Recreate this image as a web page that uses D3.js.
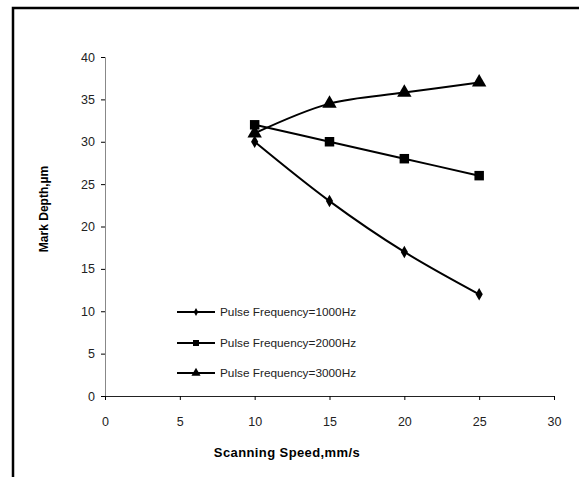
<!DOCTYPE html>
<html><head><meta charset="utf-8">
<script src="https://cdn.jsdelivr.net/npm/d3@7"></script>
<style>body{margin:0;background:#fff}svg{display:block}text{font-family:"Liberation Sans",Arial,sans-serif}</style>
</head><body>
<script>
const speeds = [10, 15, 20, 25];
const depth1000 = [30, 23, 17, 12];
const depth2000 = [32, 30, 28, 26];
const depth3000 = [31, 34.5, 35.8, 37];
const seriesNames = ["Pulse Frequency=1000Hz", "Pulse Frequency=2000Hz", "Pulse Frequency=3000Hz"];
const xTicks = [0, 5, 10, 15, 20, 25, 30];
const yTicks = [0, 5, 10, 15, 20, 25, 30, 35, 40];

const W = 579, H = 477;
const svg = d3.select("body").append("svg").attr("width", W).attr("height", H);

// frame (top + left)
svg.append("path").attr("d", `M13,${H} L13,8 L${W},8`).attr("fill", "none").attr("stroke", "#000").attr("stroke-width", 2.5);

const x = d3.scaleLinear().domain([0, 30]).range([105, 554]);
const y = d3.scaleLinear().domain([0, 40]).range([396, 57]);

// y axis
const ya = svg.append("g").attr("transform", "translate(105,0)")
  .call(d3.axisLeft(y).tickValues(yTicks).tickSize(4).tickPadding(6).tickFormat(d3.format("d")));
ya.select(".domain").attr("stroke", "#888");
ya.selectAll(".tick line").attr("stroke", "#000");
ya.selectAll("text").attr("font-size", 12.5).attr("fill", "#222").attr("font-family", "Liberation Sans, Arial, sans-serif");

// x axis
const xa = svg.append("g").attr("transform", "translate(0,396)")
  .call(d3.axisBottom(x).tickValues(xTicks).tickSize(4).tickPadding(17).tickFormat(d3.format("d")));
xa.select(".domain").attr("stroke", "#222");
xa.selectAll(".tick line").attr("stroke", "#000");
xa.selectAll("text").attr("font-size", 12.5).attr("fill", "#222").attr("font-family", "Liberation Sans, Arial, sans-serif");

// axis titles
svg.append("text").attr("x", 287).attr("y", 457).attr("text-anchor", "middle")
  .attr("font-size", 13).attr("font-weight", "bold").attr("letter-spacing", 0.4).text("Scanning Speed,mm/s");
svg.append("text").attr("transform", "translate(48,209) rotate(-90)").attr("text-anchor", "middle")
  .attr("font-size", 12).attr("font-weight", "bold").text("Mark Depth,µm");

const allSeries = [depth1000, depth2000, depth3000];
const shapes = [d3.symbolDiamond, d3.symbolSquare, d3.symbolTriangle];
const sizes = [45, 90, 90];
const line = d3.line().x(d => x(d[0])).y(d => y(d[1])).curve(d3.curveCatmullRom.alpha(0.5));

allSeries.forEach((vals, i) => {
  const pts = speeds.map((s, j) => [s, vals[j]]);
  svg.append("path").attr("d", line(pts)).attr("fill", "none").attr("stroke", "#000").attr("stroke-width", 2);
  svg.selectAll(null).data(pts).enter().append("path")
    .attr("transform", d => `translate(${x(d[0])},${y(d[1])})`)
    .attr("d", d3.symbol().type(shapes[i]).size(sizes[i]))
    .attr("fill", "#000");
});

// legend
const legY = [312, 343, 373];
seriesNames.forEach((name, i) => {
  const g = svg.append("g").attr("transform", `translate(0,${legY[i]})`);
  g.append("line").attr("x1", 177).attr("x2", 215).attr("y1", 0).attr("y2", 0).attr("stroke", "#000").attr("stroke-width", 2);
  g.append("path").attr("transform", "translate(196,0)").attr("d", d3.symbol().type(shapes[i]).size(sizes[i] * 0.4)).attr("fill", "#000");
  g.append("text").attr("x", 220).attr("y", 4).attr("font-size", 11.8).attr("fill", "#222").text(name);
});
</script>
</body></html>
